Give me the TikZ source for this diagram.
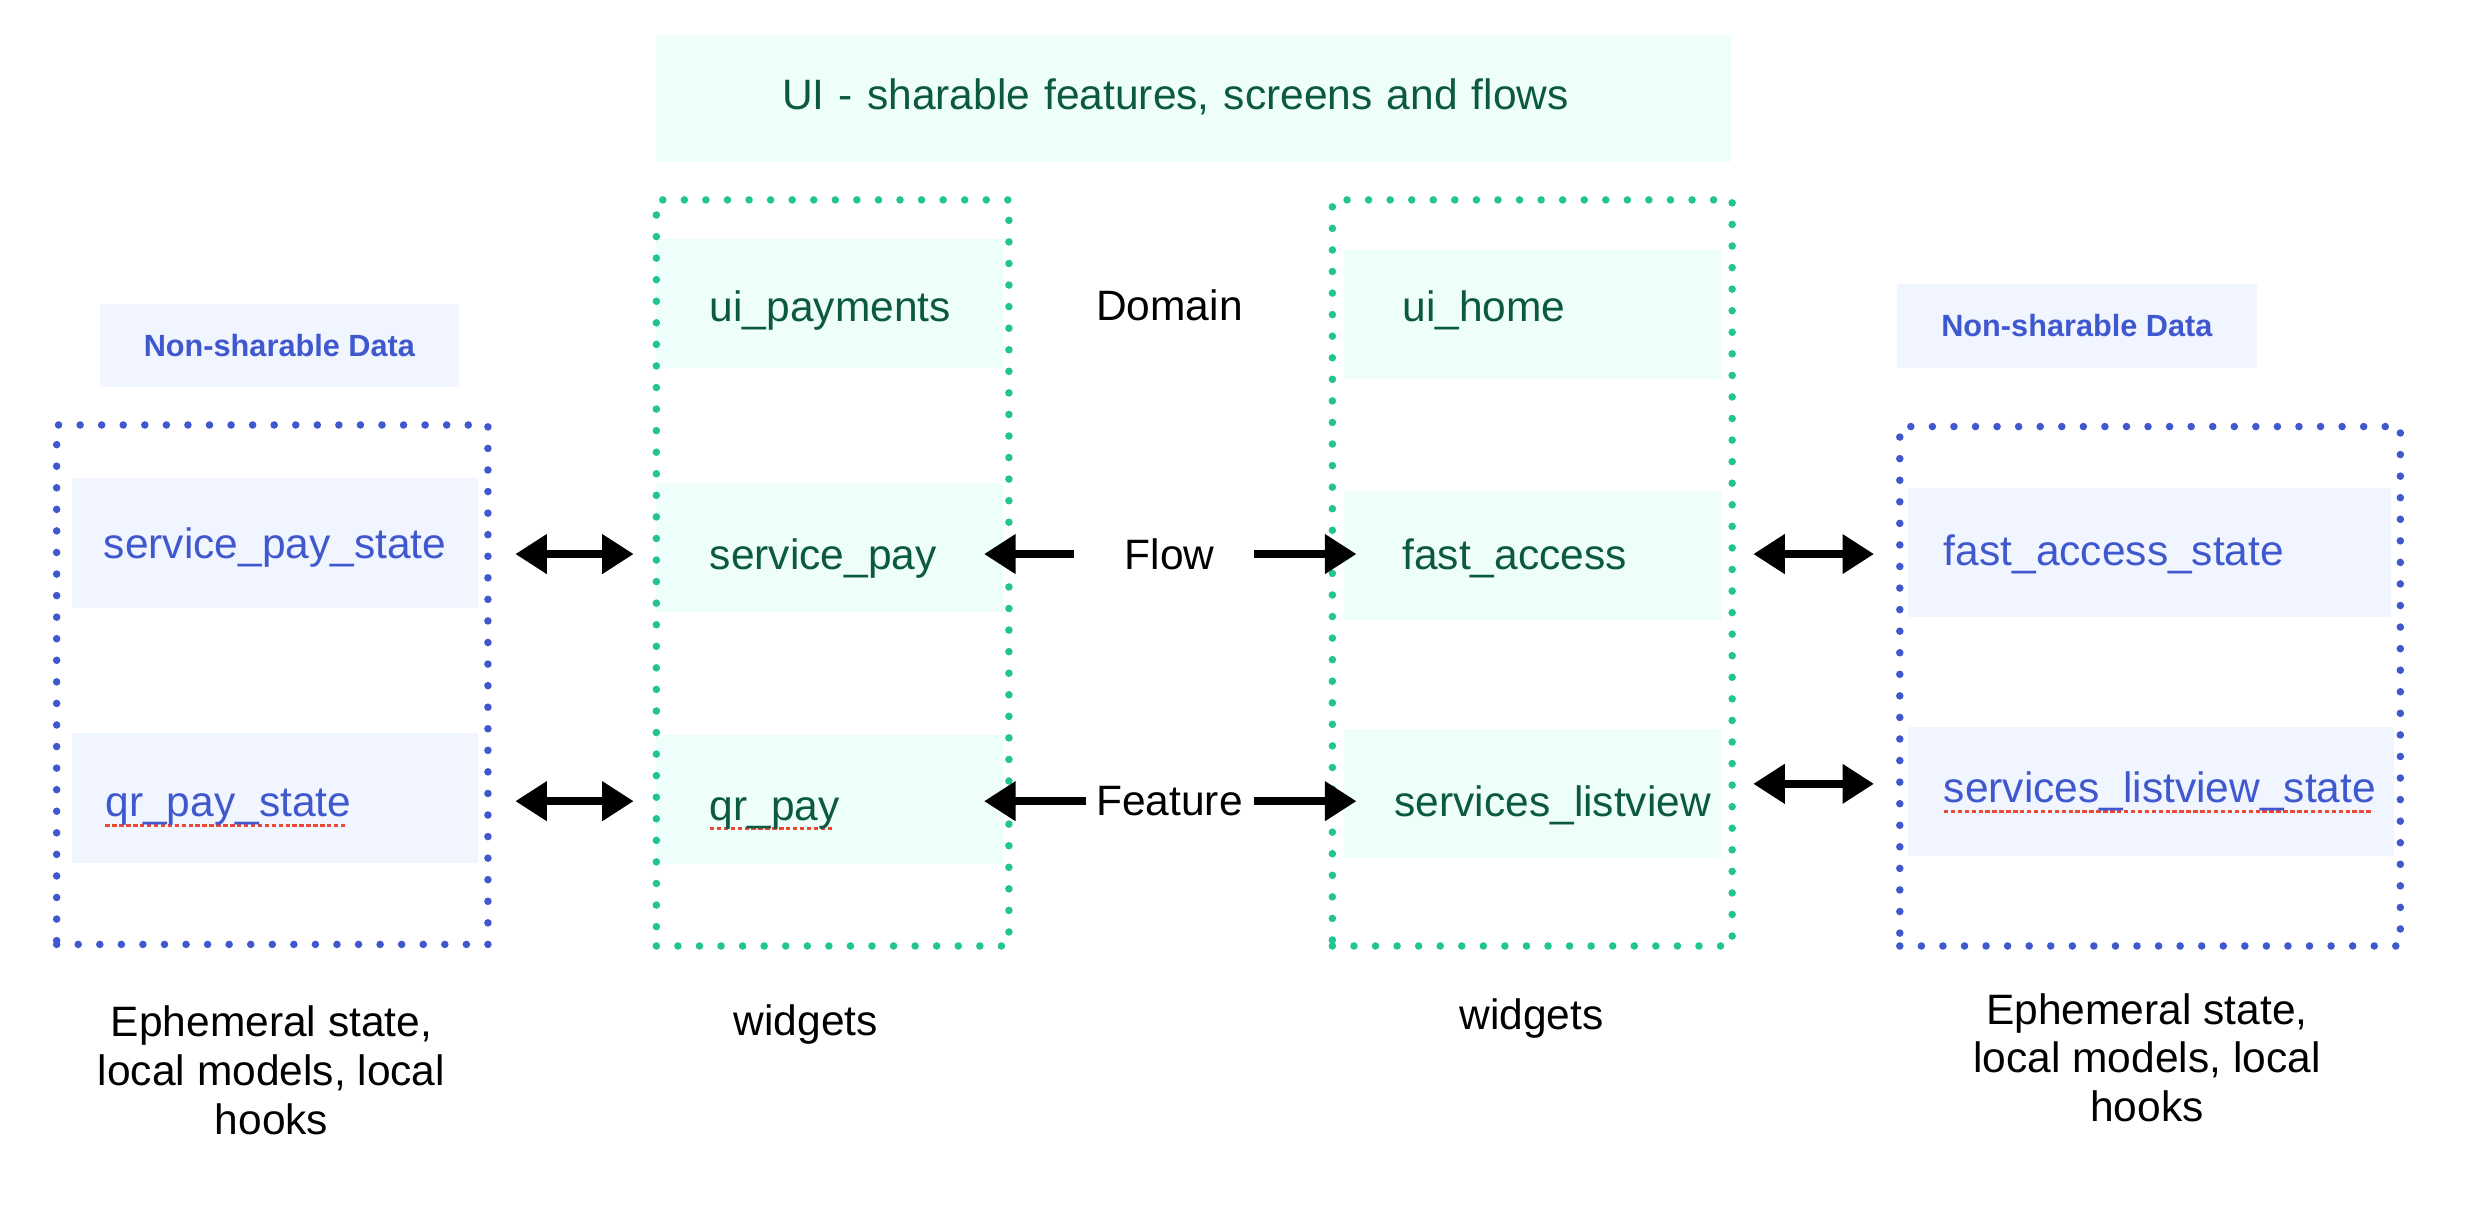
\documentclass[tikz,border=0pt]{standalone}
\usepackage{fontspec}
\setmainfont{Liberation Sans}
\usetikzlibrary{arrows.meta}

\definecolor{gtext}{RGB}{12,90,62}
\definecolor{gfill}{RGB}{238,254,250}
\definecolor{gdot}{RGB}{34,196,148}
\definecolor{btext}{RGB}{64,88,206}
\definecolor{bfill}{RGB}{240,245,255}
\definecolor{bdot}{RGB}{64,88,206}
\definecolor{spellred}{RGB}{232,72,52}

\newsavebox{\spellbox}
\newcommand{\spellmark}[1]{\sbox{\spellbox}{#1}\rlap{\textcolor{spellred}{\leaders\hbox{\rule[-6.5pt]{2.8pt}{2.2pt}\kern1.6pt}\hskip\wd\spellbox}}\usebox{\spellbox}}

\tikzset{
    lbl/.style = {font=\fontsize{27}{31}\selectfont, inner sep=0pt},
    cell/.style = {font=\fontsize{27}{31}\selectfont, minimum height=82, inner xsep=0pt, text width=#1, align=left, text height=20pt, text depth=6pt},
    gcell/.style = {cell=#1, fill=gfill, text=gtext},
    bcell/.style = {cell=#1, fill=bfill, text=btext},
    tag/.style = {fill=bfill, text=btext, font=\fontsize{19.5}{22}\selectfont\bfseries, minimum width=228, minimum height=53},
    dots/.style = {line width=4.8pt, dash pattern=on 0pt off 13.7pt, line cap=round},
    gbox/.style = {dots, draw=gdot, minimum height=474},
    bbox/.style = {dots, draw=bdot, minimum height=330},
    arr/.style = {line width=5pt, -{Triangle[length=20pt, width=24pt]}},
    dblarr/.style = {line width=5pt, {Triangle[length=20pt, width=24pt]}-{Triangle[length=20pt, width=24pt]}}
}

\begin{document}
\begin{tikzpicture}[x = 1pt, y = -1pt]
    \useasboundingbox (0,0) rectangle (1568,766);

    % header
    \node[gcell=683, minimum height=81] (title) at (758.5,62.5) {\hspace*{80pt}UI - sharable features, screens and flows};

    % shared ui packages
    \node[gcell=220, text height=28pt] (uipay) at (527,193) {\hspace*{34pt}ui\_payments};
    \node[gcell=220, text height=34pt] (svcpay) at (527,348) {\hspace*{34pt}service\_pay};
    \node[gcell=220, text height=32pt] (qrpay) at (527,508) {\hspace*{34pt}\spellmark{qr\_pay}};
    \node[gcell=240, text height=14pt] (uihome) at (974,200) {\hspace*{37pt}ui\_home};
    \node[gcell=240, text height=24pt] (fastacc) at (974,353) {\hspace*{37pt}fast\_access};
    \node[gcell=240, text height=36pt] (svclist) at (974,504) {\hspace*{32pt}services\_listview};

    % local state
    \node[tag] (tagL) at (177.5,219.5) {Non-sharable Data};
    \node[tag, minimum width=229] (tagR) at (1319.5,207) {Non-sharable Data};
    \node[bcell=258, text height=26pt] (svcpaystate) at (175,345) {\hspace*{20pt}service\_pay\_state};
    \node[bcell=258, text height=30pt] (qrpaystate) at (175,507) {\hspace*{21pt}\spellmark{qr\_pay\_state}};
    \node[bcell=307, text height=22pt] (fastaccstate) at (1365.5,351) {\hspace*{23pt}fast\_access\_state};
    \node[bcell=309] (svcliststate) at (1366.5,503) {\hspace*{23pt}\spellmark{services\_listview\_state}};

    % dotted groups
    \node[gbox, minimum width=224] (gboxL) at (529,364) {};
    \node[gbox, minimum width=254] (gboxR) at (973.5,364) {};
    \node[bbox, minimum width=274] (bboxL) at (173,435) {};
    \node[bbox, minimum width=318] (bboxR) at (1366,436) {};

    % layer names
    \node[lbl] (domain) at (743,194) {Domain};
    \node[lbl] (flow) at (743,352) {Flow};
    \node[lbl] (feature) at (743,509) {Feature};
    \node[lbl] (widgetsL) at (512,651) {widgets};
    \node[lbl] (widgetsR) at (973,647) {widgets};
    \node[lbl, align=center] (ephL) at (172.5,680) {Ephemeral state,\\local models, local\\hooks};
    \node[lbl, align=center] (ephR) at (1364,672) {Ephemeral state,\\local models, local\\hooks};

    % arrows
    \coordinate (lvrow) at (1150,498);
    \draw[dblarr, shorten <=15pt, shorten >=12pt] (bboxL.east |- flow) -- (gboxL.west |- flow);
    \draw[dblarr, shorten <=15pt, shorten >=12pt] (bboxL.east |- feature) -- (gboxL.west |- feature);
    \draw[arr, shorten <=32pt] (flow.west) -- ([xshift=-12pt]svcpay.east |- flow);
    \draw[arr, shorten <=25pt] (flow.east) -- ([xshift=8pt]fastacc.west |- flow);
    \draw[arr, shorten <=6pt] (feature.west) -- ([xshift=-12pt]qrpay.east |- feature);
    \draw[arr, shorten <=7pt] (feature.east) -- ([xshift=8pt]svclist.west |- feature);
    \draw[dblarr, shorten <=11pt, shorten >=14pt] (gboxR.east |- flow) -- (bboxR.west |- flow);
    \draw[dblarr, shorten <=11pt, shorten >=14pt] (gboxR.east |- lvrow) -- (bboxR.west |- lvrow);
\end{tikzpicture}
\end{document}
